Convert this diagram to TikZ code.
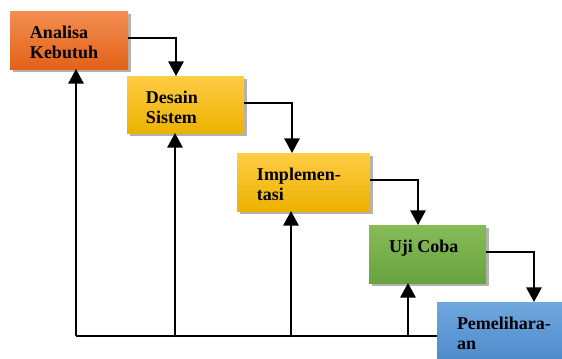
\documentclass[tikz,border=0pt]{standalone}
\usepackage{fontspec}
\setmainfont{Liberation Serif}
\usetikzlibrary{arrows.meta,calc,shadows}
\definecolor{orTop}{RGB}{243,142,82}
\definecolor{orBot}{RGB}{226,98,24}
\definecolor{yeTop}{RGB}{255,204,70}
\definecolor{yeBot}{RGB}{236,178,0}
\definecolor{grTop}{RGB}{134,188,86}
\definecolor{grBot}{RGB}{104,162,64}
\definecolor{blTop}{RGB}{112,168,222}
\definecolor{blBot}{RGB}{72,132,200}
\tikzset{
  stagebox/.style={rectangle, inner sep=0pt, outer sep=0pt, anchor=north west,
    drop shadow={shadow xshift=2pt, shadow yshift=-2.5pt, opacity=0.3, fill=black}},
  stagetxt/.style={anchor=base west, inner sep=0pt, outer sep=0pt, align=left,
    font=\fontsize{13.5pt}{15pt}\selectfont\bfseries},
  conn/.style={line width=1.5pt, black},
  arr/.style={conn, -{Triangle[length=11pt,width=11.5pt]}}
}
\begin{document}
\begin{tikzpicture}[x=0.75pt,y=-0.75pt]
\useasboundingbox (0,0) rectangle (562,358);
% boxes
\node[stagebox, minimum width=88.5pt, minimum height=43.5pt, top color=orTop, bottom color=orBot] (A) at (10,11) {};
\node[stagebox, minimum width=87.75pt, minimum height=42.75pt, top color=yeTop, bottom color=yeBot] (D) at (127,76) {};
\node[stagebox, minimum width=99.75pt, minimum height=43.5pt, top color=yeTop, bottom color=yeBot] (I) at (237,153) {};
\node[stagebox, minimum width=87.75pt, minimum height=43.5pt, top color=grTop, bottom color=grBot] (U) at (369,225) {};
\node[stagebox, minimum width=96pt, minimum height=52.5pt, top color=blTop, bottom color=blBot] (P) at (437,302) {};
% texts (base anchor = baseline of the last line)
\node[stagetxt] (tA) at (30,58) {Analisa\\Kebutuh};
\node[stagetxt] (tD) at (146,123) {Desain\\Sistem};
\node[stagetxt] (tI) at (257,200) {Implemen-\\tasi};
\node[stagetxt] (tU) at (389,252) {Uji Coba};
\node[stagetxt] (tP) at (457,349) {Pemelihara-\\an};
% forward arrows
\coordinate (inD) at ($(D.north west)+(49,0)$);
\coordinate (inI) at ($(I.north west)+(55,0)$);
\coordinate (inU) at ($(U.north west)+(49,0)$);
\coordinate (inP) at ($(P.north west)+(97,0)$);
\draw[arr] ($(A.north east)+(0,27)$) -| (inD);
\draw[arr] ($(D.north east)+(0,27)$) -| (inI);
\draw[arr] ($(I.north east)+(0,27)$) -| (inU);
\draw[arr] ($(U.north east)+(0,27)$) -| (inP);
% feedback
\coordinate (bl) at (76,336);
\coordinate (fA) at (A.south -| bl);
\coordinate (fD) at ($(D.south west)+(48,0)$);
\coordinate (fI) at ($(I.south west)+(54,0)$);
\coordinate (fU) at ($(U.south west)+(39,0)$);
\draw[conn] (bl -| P.west) -- (bl);
\draw[arr] (bl) -- (fA);
\draw[arr] (bl -| fD) -- (fD);
\draw[arr] (bl -| fI) -- (fI);
\draw[arr] (bl -| fU) -- (fU);
\end{tikzpicture}
\end{document}
